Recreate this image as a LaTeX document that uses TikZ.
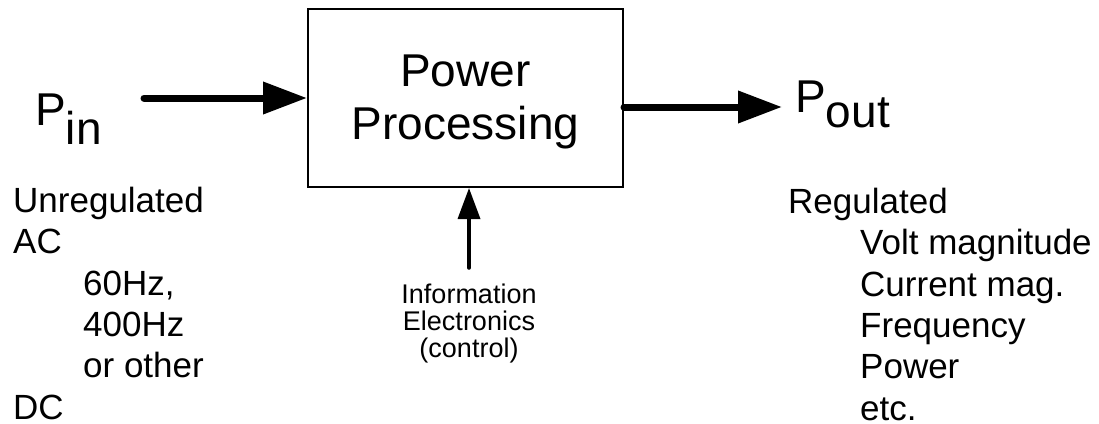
\documentclass[tikz,border=0pt]{standalone}
\usepackage{fontspec}
\setmainfont{Liberation Sans}
\usetikzlibrary{arrows.meta}

\tikzset{
  powerarrow/.style={line width=7pt, line cap=round, -{Triangle[length=44pt,width=31pt]}},
  ctrlarrow/.style={line width=3.5pt, line cap=round, -{Triangle[length=31pt,width=22pt]}},
  bigtext/.style={font=\fontsize{46}{53}\selectfont, inner sep=0pt},
  listtext/.style={font=\fontsize{35}{41.3}\selectfont, inner sep=0pt, align=left, anchor=north west},
}

\begin{document}
\begin{tikzpicture}[x=1pt, y=-1pt]
    \useasboundingbox (0,0) rectangle (1099,423);

    % The processing block
    \node[draw, line width=2pt, minimum width=315pt, minimum height=178pt] (proc) at (465.5,98) {};
    \node[bigtext, align=center] (proclabel) at (465.5,101.5) {Power\\Processing};

    % Input and output power
    \node[bigtext, anchor=base west] (pin) at (35,125) {P\raisebox{-19pt}{in}};
    \node[bigtext, anchor=base west] (pout) at (795,112) {P\raisebox{-15pt}{out}};
    \coordinate (intail) at (144,98);
    \coordinate (outtip) at (782,107);
    \draw[powerarrow] (intail) -- (proc.west);
    \draw[powerarrow] (proc.east |- outtip) -- (outtip);

    % Control input
    \node[font=\fontsize{27}{27}\selectfont, inner sep=0pt, align=center, anchor=north]
          (info) at (469,284) {Information\\Electronics\\(control)};
    \draw[ctrlarrow] ([yshift=16pt]info.north) -- (info.north |- proc.south);

    % Lists
    \node[listtext] (inlist) at (13,187)
          {Unregulated\\AC\\\hspace*{70pt}60Hz,\\\hspace*{70pt}400Hz\\\hspace*{70pt}or other\\DC};
    \node[listtext] (outlist) at (788,188)
          {Regulated\\\hspace*{72pt}Volt magnitude\\\hspace*{72pt}Current mag.\\\hspace*{72pt}Frequency\\\hspace*{72pt}Power\\\hspace*{72pt}etc.};
\end{tikzpicture}
\end{document}
